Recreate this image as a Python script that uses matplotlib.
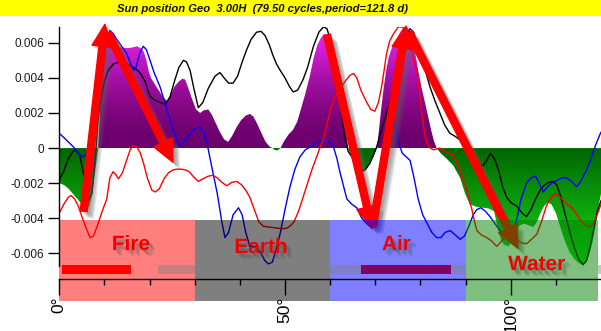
import numpy as np
import matplotlib
matplotlib.use("Agg")
import matplotlib.pyplot as plt
from matplotlib import patheffects as pe
from matplotlib.patches import Rectangle, FancyArrowPatch
from matplotlib import font_manager as fm

plt.rcParams["font.family"] = ["Liberation Sans", "DejaVu Sans"]
plt.rcParams["axes.unicode_minus"] = False

# ---------------------------------------------------------------- data
# values in thousandths (1e-3)
black_x = [0, 1, 2, 3, 3.6, 4.5, 5.5, 6.4, 7.2, 8, 8.6, 9.2, 10, 10.8, 12, 13.4, 14.5, 15.7, 17, 18, 19, 20,
           21, 22.3, 23.5, 24.5, 25.5, 26.5, 27.5, 28.2, 29, 29.8, 30.8, 31.8, 33, 34.5, 35.6, 36.5, 37.5,
           38.5, 39.5, 40.5, 41.5, 42.5, 43.7, 44.7, 45.6, 46.5, 47.3, 48.1, 49, 50, 51, 51.8, 52.8, 54, 55,
           56.3, 57.5, 58.5, 59.3, 60, 60.8, 61.8, 62.5, 63.2, 64, 64.8, 65.8, 67, 67.9, 68.8, 69.6, 70.3, 71,
           72, 73, 74, 75, 76, 77, 77.7, 78.5, 79.3, 79.9, 81, 82.1, 83.2, 84.3, 85.4, 86.5, 87.5, 88.6, 89.8,
           91, 92, 93, 93.9, 94.7, 95.5, 96.4, 97.3, 98.2, 99.1, 100, 101.3, 102.5, 103.5, 104.5, 105.5, 106.5,
           107.5, 108.5, 109.4, 110.2, 111, 112, 113, 114, 115, 116, 116.8, 117.6, 118.4, 119.2, 120]
black_milli = [-1.8, -1.3, -0.6, -0.2, -0.1, -0.4, -1.6, -3.0, -2.6, -0.5, 1.6, 2.8, 3.8, 4.4, 4.8, 4.9, 4.85,
               4.7, 4.5, 4.25, 3.8, 3.0, 2.75, 2.6, 2.5, 2.9, 3.8, 4.6, 5.0, 4.9, 4.4, 3.4, 2.3, 2.6, 3.4, 4.1,
               4.3, 4.0, 3.7, 3.7, 4.1, 4.9, 5.6, 6.2, 6.6, 6.65, 6.4, 5.9, 5.3, 4.8, 4.4, 4.0, 3.5, 3.2, 3.3,
               3.9, 4.6, 5.8, 6.6, 6.9, 6.8, 6.2, 5.0, 3.5, 2.0, 0.7, -0.2, -0.5, -1.0, -1.35, -1.2, -0.87,
               -0.4, 0.07, 0.7, 1.6, 2.4, 3.3, 4.4, 5.5, 6.4, 6.8, 6.6, 5.9, 5.5, 4.5, 3.5, 2.7, 2.0, 1.3,
               0.85, 0.7, 0.5, 0.25, -0.2, -0.7, -0.95, -1.0, -0.7, -0.3, -0.6, -1.25, -2.2, -2.8, -3.1, -3.3,
               -3.7, -3.9, -3.5, -2.9, -2.4, -2.1, -1.95, -1.9, -2.1, -2.7, -3.7, -4.7, -5.6, -6.3, -6.65,
               -6.4, -5.6, -4.6, -3.6, -3.0]

blue_x = [0, 1, 2, 3, 4, 5, 5.8, 6.8, 7.5, 8.5, 9.5, 10.5, 11.2, 12, 12.7, 13.8, 14.9, 15.8, 16.4, 17, 17.8,
          18.6, 19.3, 20.1, 21, 22.3, 23.5, 24.5, 25.5, 26.7, 27.8, 28.9, 30, 31.2, 32, 32.7, 33.8, 35, 36,
          36.7, 37.5, 38.5, 39.7, 40.5, 41.3, 42.2, 43.3, 44.5, 45.5, 46.3, 47.2, 48, 48.9, 50, 51.1, 52.2,
          53.3, 54.5, 56.3, 57.5, 58.9, 60, 60.7, 61.5, 62.2, 63, 63.7, 64.8, 65.9, 67, 68.1, 69, 69.6, 70.2,
          71, 72, 73, 74, 75, 76, 77.7, 78.5, 79.5, 80.5, 81.5, 82.5, 83.6, 84.5, 85.5, 86.6, 87.5, 88.8,
          89.8, 90.8, 91.7, 92.5, 93.4, 94.4, 95.4, 96.5, 97.6, 98.6, 99.5, 100.4, 101.3, 102.3, 103.5,
          104.5, 105.5, 106.3, 107.2, 108.2, 109.1, 110.2, 111.3, 112.4, 113.5, 114.6, 115.5, 116.8, 117.8,
          118.7, 119.8, 120]
blue_milli = [0.84, 0.6, 0.35, 0.1, -0.2, -0.5, -0.4, 0.1, 1.0, 2.8, 4.8, 6.2, 6.7, 6.5, 6.2, 5.8, 5.4, 4.8,
              4.4, 4.6, 5.4, 5.8, 5.6, 5.0, 4.3, 3.5, 2.5, 1.6, 0.8, 0.1, 0.4, 0.8, 1.1, 1.2, 0.9, 0.3, -1.1,
              -2.6, -4.2, -5.1, -4.8, -3.8, -3.4, -3.8, -4.8, -5.6, -5.6, -5.9, -6.4, -6.6, -6.5, -5.8, -4.9,
              -3.5, -2.2, -1.2, -0.5, -0.1, 0.17, 0.35, 0.46, 0.3, 0.1, -0.6, -1.4, -2.2, -2.9, -3.2, -3.4,
              -4.0, -4.3, -4.5, -4.5, -4.1, -2.2, 0.2, 1.5, 1.8, 0.4, -0.3, -0.7, -1.6, -2.9, -3.8, -4.3,
              -4.8, -5.1, -5.1, -4.8, -4.7, -4.9, -5.2, -5.0, -4.4, -3.8, -3.5, -3.4, -3.6, -3.9, -4.3, -4.7,
              -5.0, -5.1, -4.8, -4.1, -2.9, -2.0, -1.7, -1.6, -2.0, -2.5, -2.2, -2.0, -1.85, -1.7, -1.7,
              -1.9, -2.2, -1.9, -1.25, -0.6, 0.1, 0.8, 0.9]

red_x = [0, 1, 2, 2.6, 3.4, 4.2, 5, 6, 6.8, 7.6, 8.6, 9.5, 10.5, 11.2, 11.9, 12.5, 13.1, 14, 14.9, 15.7, 16.4,
         17.2, 17.9, 18.7, 19.5, 20.5, 21.3, 22.2, 23.2, 24.2, 25.2, 26, 27, 28, 28.8, 29.6, 30.8, 31.8, 33,
         34, 35, 36, 37.1, 38.2, 39.3, 40.4, 41.3, 42.2, 43.2, 44.2, 45.2, 46.5, 48, 49.5, 50.5, 51.3, 52,
         53, 54, 55, 56, 57, 58, 58.5, 59.4, 60.3, 61.2, 62.2, 63.3, 64.4, 65.2, 65.9, 66.8, 68.1, 69, 69.9,
         70.7, 71.4, 72, 72.5, 73.2, 74, 75.1, 76, 76.6, 77.5, 78.5, 79.2, 79.8, 80.3, 80.9, 81.4, 82.2,
         82.9, 84.3, 85.8, 87.3, 88.2, 88.8, 89.6, 90.3, 90.9, 91.4, 92, 92.5, 93.5, 94.7, 95.8, 96.9, 98,
         99.1, 100.2, 101.3, 102.4, 103.5, 104.6, 105.8, 106.8, 107.9, 108.9, 109.9, 110.8, 111.7, 112.8,
         113.9, 114.7, 115.4, 116.5, 117.6, 118.3, 119, 120]
red_milli = [-3.7, -3.2, -2.8, -2.7, -2.9, -3.3, -3.9, -4.6, -5.1, -5.0, -4.3, -3.6, -2.9, -1.7, -1.35, -1.5,
             -1.75, -1.4, -0.7, -0.1, 0.15, 0.05, -0.25, -0.9, -1.7, -2.4, -2.5, -2.3, -1.75, -1.4, -1.25,
             -1.2, -1.2, -1.25, -1.35, -1.6, -1.9, -1.75, -1.6, -1.55, -1.7, -1.95, -2.15, -1.95, -1.9, -2.1,
             -2.4, -2.8, -3.5, -4.2, -4.45, -4.5, -4.55, -4.6, -4.55, -4.4, -4.2, -3.6, -2.8, -2.0, -1.2,
             -0.5, 0.2, 0.5, 1.5, 2.4, 3.0, 3.35, 3.8, 4.15, 4.25, 4.0, 3.3, 2.6, 2.2, 2.1, 2.6, 3.5, 4.5,
             5.4, 6.1, 6.5, 6.9, 6.9, 6.7, 6.1, 5.1, 4.4, 3.2, 2.0, 0.9, 0.3, 0.0, -0.1, 0.0, -0.25, -0.4,
             -0.9, -1.25, -1.9, -2.4, -3.0, -3.5, -4.2, -4.7, -4.95, -5.1, -5.3, -5.6, -5.3, -4.9, -5.05,
             -5.2, -5.4, -5.45, -5.2, -4.9, -4.2, -3.3, -2.8, -2.6, -2.75, -3.0, -3.25, -3.5, -3.8, -4.1,
             -4.35, -4.5, -4.3, -3.9, -3.2]

fill_x = [0, 1, 2, 3, 4, 5, 6, 6.6, 7.3, 8, 8.6, 9.0, 9.4, 9.8, 10.5, 11.5, 12.5, 13.5, 14.5, 15.5, 16.5,
          17.2, 18, 18.7, 19.3, 19.8, 20.3, 21, 22, 23, 23.8, 24.6, 25.5, 26.5, 27.3, 27.9, 28.6, 29.4, 30.3,
          31.2, 32, 33, 33.8, 34.7, 35.6, 36.5, 37.4, 38.3, 39.3, 40.3, 41.3, 42.2, 43, 43.8, 44.7, 45.6,
          46.5, 47.2, 47.8, 48.4, 49, 49.7, 50.7, 51.8, 52.7, 53.5, 54.5, 55.5, 56.4, 57.2, 58, 58.7, 59.4,
          60.1, 60.8, 61.5, 62.2, 62.9, 63.5, 64.0, 64.8, 65.7, 66.6, 67.5, 68.5, 69.5, 70.4, 70.8, 71.3,
          71.8, 72.4, 73, 73.8, 74.7, 75.5, 76.3, 77, 77.7, 78.4, 79, 79.6, 80.3, 81, 81.7, 82.4, 83, 83.6,
          84.5, 85.8, 87.3, 88.8, 89.9, 90.9, 92.5, 94, 95.2, 96.3, 97, 97.8, 98.5, 99.5, 100.3, 101, 102,
          103, 104, 105, 105.8, 106.6, 107.4, 108.2, 109, 110, 111, 112, 113, 114, 115, 116, 116.7, 117.4,
          118.1, 118.8, 119.4, 120]
fill_milli = [-2.0, -2.1, -2.3, -2.6, -2.9, -3.2, -3.4, -3.35, -2.6, -1.2, 0.0, 2.0, 4.5, 5.6, 6.0, 6.0, 5.85,
              5.75, 5.7, 5.7, 5.75, 5.8, 5.7, 5.5, 5.0, 4.4, 4.0, 3.7, 3.3, 2.9, 2.7, 3.0, 3.5, 3.8, 3.95,
              3.9, 3.4, 2.8, 2.2, 2.0, 2.15, 2.2, 1.9, 1.4, 0.9, 0.5, 0.35, 0.7, 1.2, 1.6, 1.85, 1.95, 1.8,
              1.4, 0.9, 0.4, 0.1, 0.0, -0.12, -0.12, 0.0, 0.35, 0.75, 1.05, 1.5, 2.2, 3.1, 4.1, 5.2, 5.9,
              6.3, 6.5, 6.45, 6.0, 5.0, 4.2, 3.2, 2.3, 1.1, 0.0, -0.6, -1.1, -1.35, -1.3, -1.0, -0.5, 0.0,
              1.0, 2.2, 3.3, 4.4, 5.2, 5.8, 6.2, 6.6, 6.9, 6.9, 6.7, 6.1, 5.2, 4.3, 3.4, 2.6, 1.8, 1.0, 0.4,
              0.0, -0.3, -0.6, -1.0, -1.7, -2.6, -3.2, -3.35, -3.4, -3.45, -3.6, -4.4, -5.2, -5.5, -5.6,
              -5.3, -4.8, -4.4, -4.3, -4.4, -4.5, -4.2, -3.7, -3.3, -3.1, -3.2, -3.7, -4.5, -5.3, -5.9, -6.3,
              -6.55, -6.65, -6.55, -6.1, -5.4, -4.4, -3.4, -2.6]

elements = ["Fire", "Earth", "Air", "Water"]
element_start = [0, 30, 60, 90]
element_end = [30, 60, 90, 119.4]
element_color = ["#ff0000", "#000000", "#0000ff", "#008000"]
label_x = [15.9, 44.7, 74.7, 105.8]
label_base_milli = [-5.81, -5.98, -5.81, -6.95]

# phase bars under the element blocks (start, end, colour)
bar_start = [0.7, 66.8]
bar_end = [15.9, 86.8]
bar_color = ["#ff0000", "#82005f"]
# grey track segments along the same row
strip_start = [21.9, 119.4]
strip_end = [90, 120]

# annotation arrows (tail x, tail y, head x, head y) ; y in thousandths
arrows = [(5.4, -3.6, 10.1, 7.05),
          (10.8, 6.55, 25.2, -0.8),
          (59.3, 6.45, 69.3, -4.6),
          (69.5, -4.45, 76.8, 6.95),
          (77.5, 6.6, 101.6, -5.7)]

ytick_vals = [-0.006, -0.004, -0.002, 0, 0.002, 0.004, 0.006]
ytick_text = ["-0.006", "-0.004", "-0.002", "0", "0.002", "0.004", "0.006"]
xmajor_vals = [0, 50, 100]
xmajor_text = ["0°", "50°", "100°"]
xminor_vals = [10, 20, 30, 40, 60, 70, 80, 90, 110]

title = "Sun position Geo  3.00H  (79.50 cycles,period=121.8 d)"

# ---------------------------------------------------------------- figure
W, H = 601, 331
fig = plt.figure(figsize=(W / 100, H / 100), dpi=100)
fig.add_artist(Rectangle((0, 1 - 16 / H), 1, 16 / H, transform=fig.transFigure,
                         facecolor="#ffff00", edgecolor="none", zorder=0))

names = {f.name for f in fm.fontManager.ttflist}
title_family = "Liberation Sans Narrow" if "Liberation Sans Narrow" in names else "Liberation Sans"
ttl = fig.text(262.5 / W, 1 - 8.5 / H, title, ha="center", va="center", fontsize=10,
               style="italic", weight="bold", family=[title_family, "DejaVu Sans"], color="#111111")
# fit the title into the 291 px wide slot of the header band
renderer = fig.canvas.get_renderer()
tw = ttl.get_window_extent(renderer).width
ttl.set_fontsize(10 * 291 / tw)

ax = fig.add_axes([59.3 / W, (H - 265.7) / H, (W - 59.3) / W, (265.7 - 27.3) / H])
ax.patch.set_visible(False)

m = 1e-3
fx = np.array(fill_x)
fy = np.array(fill_milli) * m


def gradient_fill(y, lo, hi, c_lo, c_hi, gamma, z):
    poly = ax.fill_between(fx, y, 0, facecolor="none", edgecolor="none", zorder=z)
    path = poly.get_paths()[0]
    t = np.linspace(0, 1, 256)[:, None] ** gamma
    rgb = (1 - t) * np.array(c_lo) + t * np.array(c_hi)
    im = ax.imshow(rgb[:, None, :], extent=[0, 120, lo, hi], origin="lower", aspect="auto",
                   interpolation="bilinear", zorder=z)
    im.set_clip_path(path, transform=ax.transData)


# positive part: dark purple at zero to bright magenta at the top
gradient_fill(np.maximum(fy, 0), 0, 0.0070, (0.42, 0.0, 0.42), (1.0, 0.16, 1.0), 1.6, 1)
# negative part: dark green at zero to bright green at the bottom
gradient_fill(np.minimum(fy, 0), 0, -0.0068, (0.0, 0.40, 0.0), (0.10, 0.88, 0.10), 1.0, 1)

ax.plot(black_x, np.array(black_milli) * m, color="black", lw=1.0, zorder=2)
ax.plot(blue_x, np.array(blue_milli) * m, color="#0000ff", lw=1.0, zorder=2)
ax.plot(red_x, np.array(red_milli) * m, color="#ff0000", lw=1.0, zorder=2)

shadow = [pe.SimplePatchShadow(offset=(d, -d), shadow_rgbFace="#606060", alpha=0.18) for d in (2, 3, 4, 5)]
for x0, y0, x1, y1 in arrows:
    arr = FancyArrowPatch((x0, y0 * m), (x1, y1 * m),
                          arrowstyle="simple,head_length=16,head_width=15,tail_width=5",
                          mutation_scale=1, shrinkA=0, shrinkB=0, color="#ff0000",
                          clip_on=False, zorder=3)
    arr.set_path_effects(shadow + [pe.Normal()])
    ax.add_patch(arr)

box_top = -0.0041
box_bottom = -0.0087
for s, e, c in zip(element_start, element_end, element_color):
    ax.add_patch(Rectangle((s, box_bottom), e - s, box_top - box_bottom, facecolor=c, alpha=0.5,
                           edgecolor="none", clip_on=False, zorder=4))

strip_lo, strip_hi = -0.0072, -0.00667
for s, e in zip(strip_start, strip_end):
    ax.add_patch(Rectangle((s, strip_lo), e - s, strip_hi - strip_lo, facecolor="#808080", alpha=0.45,
                           edgecolor="none", clip_on=False, zorder=5))
for s, e, c in zip(bar_start, bar_end, bar_color):
    ax.add_patch(Rectangle((s, strip_lo), e - s, strip_hi - strip_lo, facecolor=c,
                           edgecolor="none", clip_on=False, zorder=6))

tshadow = [pe.SimplePatchShadow(offset=(d, -d), shadow_rgbFace="#505050", alpha=0.2) for d in (2, 3, 4)]
for name, lx, ly in zip(elements, label_x, label_base_milli):
    t = ax.text(lx, ly * m, name, ha="center", va="baseline", fontsize=15, weight="bold",
                color="#f00000", zorder=7, clip_on=False)
    t.set_path_effects(tshadow + [pe.Normal()])

# ---------------------------------------------------------------- axes
ax.set_xlim(0, 120)
ax.set_ylim(-0.0067, 0.00688)
for side in ("top", "right"):
    ax.spines[side].set_visible(False)
ax.spines["bottom"].set_position(("outward", 9.5))
for sp in ax.spines.values():
    sp.set_zorder(10)
    sp.set_linewidth(1.0)
ax.xaxis.set_zorder(10)
ax.yaxis.set_zorder(10)

ax.set_yticks(ytick_vals)
ax.set_yticklabels(ytick_text)
ax.tick_params(axis="y", direction="out", length=8, width=1, pad=3, labelsize=8.5, labelcolor="#1a1a1a")

ax.set_xticks(xmajor_vals)
ax.set_xticklabels(xmajor_text, rotation=90)
ax.set_xticks(xminor_vals, minor=True)
ax.tick_params(axis="x", which="major", direction="out", length=11.5, width=1, pad=1, labelsize=12.5)
ax.tick_params(axis="x", which="minor", direction="out", length=4.3, width=1)

fig.savefig("out.png", dpi=100)
